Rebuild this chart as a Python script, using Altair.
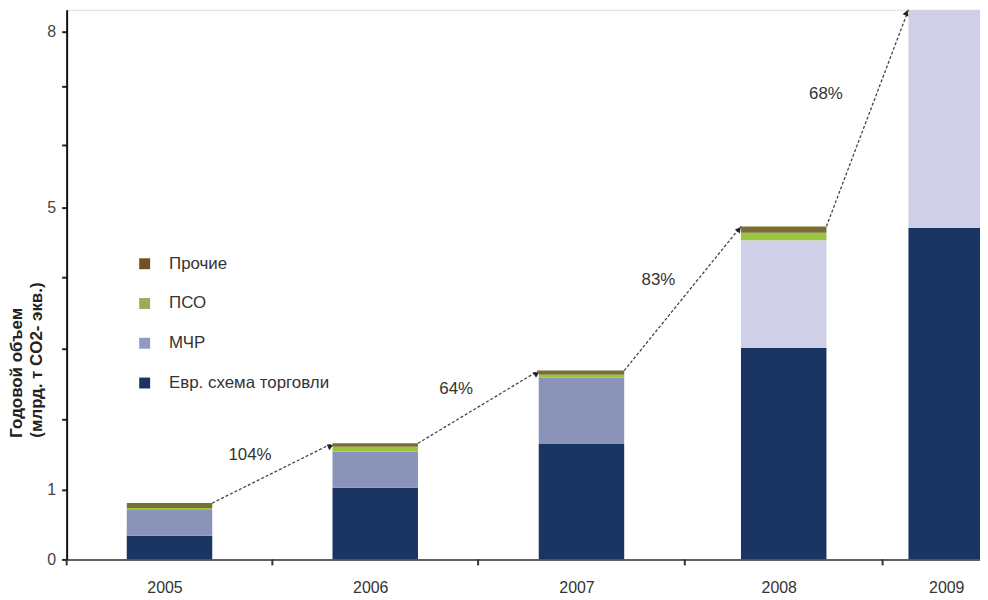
import altair as alt
import pandas as pd

# ---- data ----
years = [2005, 2006, 2007, 2008, 2009]
series = ["Евр. схема торговли", "МЧР", "ПСО", "Прочие"]
eu_ets = [0.34, 1.03, 1.65, 3.01, 4.71]
cdm = [0.37, 0.51, 0.94, 1.52, 3.69]
ji = [0.03, 0.07, 0.04, 0.11, 0.0]
other = [0.07, 0.05, 0.06, 0.09, 0.0]
growth_labels = ["104%", "64%", "83%", "68%"]
arrow_angles = [65, 59, 38, 21]

legend_order = ["Прочие", "ПСО", "МЧР", "Евр. схема торговли"]
legend_colors = ["#6f5224", "#9bab5f", "#8e9bc6", "#1b3563"]

fill_domain = ["Евр. схема торговли", "МЧР", "МЧР ", "ПСО", "Прочие"]
fill_colors = ["#1b3563", "#8b93b8", "#cfcfe7", "#9cc43c", "#7a6f32"]

# ---- tables ----
rows = []
for i, y in enumerate(years):
    vals = [eu_ets[i], cdm[i], ji[i], other[i]]
    for k, s in enumerate(series):
        key = s
        if s == "МЧР" and y >= 2008:
            key = "МЧР "
        rows.append({"year": y, "series": s, "fillkey": key, "value": vals[k], "ord": k})
df = pd.DataFrame(rows)

totals = [eu_ets[i] + cdm[i] + ji[i] + other[i] for i in range(len(years))]
arr = pd.DataFrame({
    "x0": years[:-1],
    "x1": years[1:],
    "y0": totals[:-1],
    "y1": totals[1:],
    "ym": [(totals[i] + totals[i + 1]) / 2 for i in range(len(years) - 1)],
    "label": growth_labels,
    "angle": arrow_angles,
})
bounds = pd.DataFrame({"b": [y - 0.5 for y in years]})

# ---- scales / axes ----
xs = alt.Scale(domain=[2004.5, 2005.5, 2006.5, 2007.5, 2008.5, 2009.21],
               range=[0, 207, 414, 622, 821, 919],
               zero=False, nice=False, padding=0)
ys = alt.Scale(domain=[0, 1, 2, 3, 4, 5, 6, 7, 8, 8.4],
               range=[553, 483, 412, 341, 269, 199, 136, 77, 22, 0], zero=False, nice=False)

xaxis = alt.Axis(
    values=years, format="d", ticks=False, labelFlush=False,
    labelOverlap=False, labelPadding=20, labelFontSize=16, labelColor="#333",
    labelFont="Liberation Sans", labelOffset=-5,
    domainColor="#333", domainWidth=1.5, grid=False, title=None,
)
yaxis = alt.Axis(
    values=list(range(9)),
    labelExpr="(datum.value == 0 || datum.value == 1 || datum.value == 5 || datum.value == 8) ? datum.label : ''",
    title=["Годовой объем", "(млрд. т CO2- экв.)"],
    titleFontWeight="bold", titleFontSize=17, titleColor="#222", titleFont="Liberation Sans",
    titleAngle=270, titleAlign="left", titleBaseline="top", titleX=-58, titleY=430,
    titleLineHeight=20,
    labelFontSize=16, labelColor="#444", labelFont="Liberation Sans", labelPadding=6,
    tickSize=5, tickWidth=2, tickColor="#222", domainColor="#111", domainWidth=2,
    grid=False, labelOverlap=False,
)


def X(f):
    return alt.X(f, type="quantitative", scale=xs, axis=xaxis)


def Y(f, **kw):
    return alt.Y(f, type="quantitative", scale=ys, axis=yaxis, **kw)


bars = alt.Chart(df).mark_bar(size=86, clip=True).encode(
    x=X("year"),
    y=Y("value", stack="zero"),
    fill=alt.Fill("fillkey:N", scale=alt.Scale(domain=fill_domain, range=fill_colors), legend=None),
    order=alt.Order("ord:Q", sort="ascending"),
)

legend_layer = alt.Chart(df).mark_square(opacity=0, size=121).encode(
    x=X("year"),
    y=Y("value"),
    color=alt.Color(
        "series:N",
        scale=alt.Scale(domain=legend_order, range=legend_colors),
        legend=alt.Legend(
            title=None, orient="none", legendX=70, legendY=247,
            symbolType="square", symbolSize=121, symbolOpacity=1, symbolStrokeWidth=0,
            labelFontSize=17, labelColor="#333", labelFont="Liberation Sans",
            labelOffset=16, rowPadding=22, padding=0, labelLimit=400,
        ),
    ),
)

xticks = alt.Chart(bounds).mark_rule(color="#333", strokeWidth=2).encode(
    x=X("b"), y=alt.value(553), y2=alt.value(559)
)

arrows = alt.Chart(arr).mark_rule(
    strokeDash=[3, 2], color="#444", strokeWidth=1.3, xOffset=43, x2Offset=-43
).encode(x=X("x0"), x2="x1", y=Y("y0"), y2="y1")

heads = alt.Chart(arr).mark_point(
    shape="triangle-up", filled=True, size=40, color="#222", opacity=1, xOffset=-45, yOffset=3
).encode(x=X("x1"), y=Y("y1"), angle=alt.Angle("angle:Q", scale=None))

labels = alt.Chart(arr).mark_text(
    fontSize=17, color="#333", font="Liberation Sans", dx=-126, dy=-18
).encode(x=X("x1"), y=Y("ym"), text="label:N")

chart = alt.layer(bars, legend_layer, xticks, arrows, heads, labels).properties(
    width=919, height=553,
    autosize=alt.AutoSizeParams(type="none"),
    padding={"left": 59, "top": 0, "right": 0, "bottom": 40},
).configure_view(stroke=None).configure(background="white")

chart.save("out.html", embed_options={"renderer": "svg", "actions": False})
